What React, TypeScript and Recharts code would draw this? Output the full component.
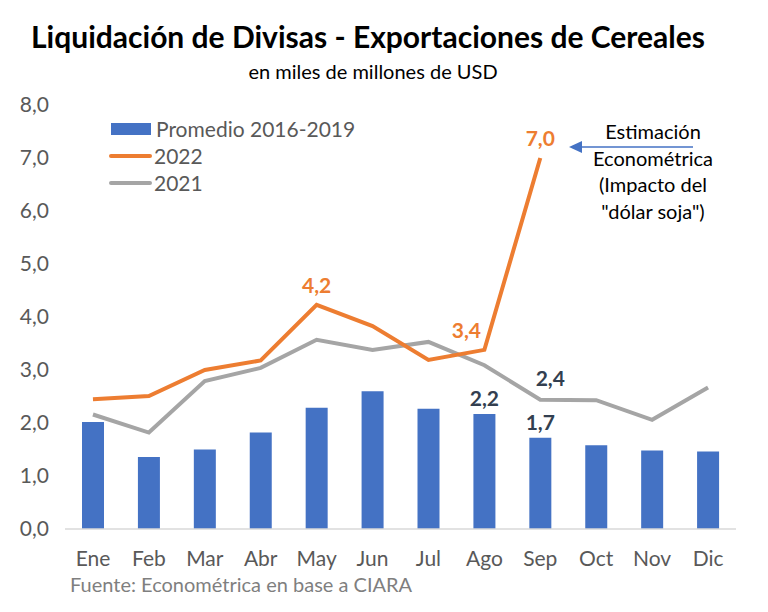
import React from "react"
import {
  ComposedChart,
  Bar,
  Line,
  XAxis,
  YAxis,
  LabelList,
} from "recharts"

const MONTHS = ["Ene", "Feb", "Mar", "Abr", "May", "Jun", "Jul", "Ago", "Sep", "Oct", "Nov", "Dic"]
const PROMEDIO = [2.02, 1.36, 1.5, 1.82, 2.29, 2.6, 2.27, 2.17, 1.72, 1.58, 1.48, 1.46]
const Y2022: (number | null)[] = [2.45, 2.51, 3.0, 3.18, 4.23, 3.83, 3.19, 3.38, 7.0, null, null, null]
const Y2021 = [2.16, 1.82, 2.79, 3.04, 3.57, 3.38, 3.53, 3.09, 2.44, 2.43, 2.06, 2.67]
const Y_TICKS = [0, 1, 2, 3, 4, 5, 6, 7, 8]

// which points carry a value label
const LABEL_2022 = [4, 7, 8]
const LABEL_BARS = [7, 8]
const LABEL_2021 = [8]

const BLUE = "#4472C4"
const ORANGE = "#ED7D31"
const GRAY = "#A5A5A5"
const FONT = "Lato, 'Open Sans', sans-serif"

const data = MONTHS.map((m, i) => ({
  mes: m,
  promedio: PROMEDIO[i],
  y2022: Y2022[i],
  y2021: Y2021[i],
}))

const fmt = (v: number) => v.toFixed(1).replace(".", ",")

function makeLabel(indexes: number[], color: string, dx = 0, dy = -12) {
  return (props: any) => {
    const { x, y, width, index, value } = props
    if (!indexes.includes(index) || value == null) return null
    const cx = width != null ? x + width / 2 : x
    let ox = dx
    if (color === ORANGE && index === 7) ox = -18
    return (
      <text
        x={cx + ox}
        y={y + dy}
        textAnchor="middle"
        fill={color}
        fontFamily={FONT}
        fontWeight={700}
        fontSize={21}
      >
        {fmt(value)}
      </text>
    )
  }
}

function LegendBox() {
  const row = { display: "flex", alignItems: "center", height: 27 } as const
  const txt = { fontSize: 21, color: "#595959", marginLeft: 5 }
  return (
    <div style={{ position: "absolute", left: 109, top: 115, fontFamily: FONT }}>
      <div style={row}>
        <span style={{ width: 40, height: 12, background: BLUE, display: "inline-block", marginLeft: 2 }} />
        <span style={txt}>Promedio 2016-2019</span>
      </div>
      <div style={row}>
        <span style={{ width: 43, height: 4, borderRadius: 2, background: ORANGE, display: "inline-block" }} />
        <span style={{ ...txt, marginLeft: 2 }}>2022</span>
      </div>
      <div style={row}>
        <span style={{ width: 43, height: 4, borderRadius: 2, background: GRAY, display: "inline-block" }} />
        <span style={{ ...txt, marginLeft: 2 }}>2021</span>
      </div>
    </div>
  )
}

export default function App() {
  return (
    <div style={{ position: "absolute", left: 0, top: 0, width: 768, height: 612, background: "#fff", fontFamily: FONT }}>
      <div style={{ position: "absolute", top: 18, left: 0, width: 736, textAlign: "center", fontSize: 30, fontWeight: 700, color: "#000" }}>
        Liquidación de Divisas - Exportaciones de Cereales
      </div>
      <div style={{ position: "absolute", top: 59, left: 0, width: 746, textAlign: "center", fontSize: 20, color: "#000" }}>
        en miles de millones de USD
      </div>

      <ComposedChart width={768} height={612} data={data} margin={{ top: 105, right: 32, bottom: 53, left: 5 }}>
        <XAxis
          dataKey="mes"
          axisLine={{ stroke: "#D9D9D9", strokeWidth: 1.5 }}
          tickLine={false}
          tick={{ fontSize: 21, fill: "#595959", fontFamily: FONT }}
          tickMargin={16}
          interval={0}
          height={30}
        />
        <YAxis
          domain={[0, 8]}
          ticks={Y_TICKS}
          axisLine={false}
          tickLine={false}
          tick={{ fontSize: 21, fill: "#595959", fontFamily: FONT }}
          tickFormatter={fmt}
          width={60}
          tickMargin={10}
        />
        <Bar dataKey="promedio" fill={BLUE} barSize={22} isAnimationActive={false}>
          <LabelList dataKey="promedio" content={makeLabel(LABEL_BARS, "#333F50", 0, -8)} />
        </Bar>
        <Line
          dataKey="y2021"
          type="linear"
          stroke={GRAY}
          strokeWidth={4}
          dot={false}
          isAnimationActive={false}
        >
          <LabelList dataKey="y2021" content={makeLabel(LABEL_2021, "#333F50", 10, -14)} />
        </Line>
        <Line
          dataKey="y2022"
          type="linear"
          stroke={ORANGE}
          strokeWidth={4}
          dot={false}
          connectNulls={false}
          isAnimationActive={false}
        >
          <LabelList dataKey="y2022" content={makeLabel(LABEL_2022, ORANGE, 0, -12)} />
        </Line>
      </ComposedChart>

      <LegendBox />

      <svg style={{ position: "absolute", left: 0, top: 0 }} width={768} height={612} pointerEvents="none">
        <line x1={693} y1={147} x2={580} y2={147} stroke={BLUE} strokeWidth={1.5} />
        <polygon points="569,147 582,141 582,153" fill={BLUE} />
      </svg>
      <div style={{ position: "absolute", left: 573, top: 118, width: 160, textAlign: "center", fontSize: 20, lineHeight: "26.5px", color: "#000" }}>
        Estimación<br />Econométrica<br />(Impacto del<br />"dólar soja")
      </div>

      <div style={{ position: "absolute", left: 70, top: 572, fontSize: 20, color: "#7F7F7F" }}>
        Fuente: Econométrica en base a CIARA
      </div>
    </div>
  )
}
